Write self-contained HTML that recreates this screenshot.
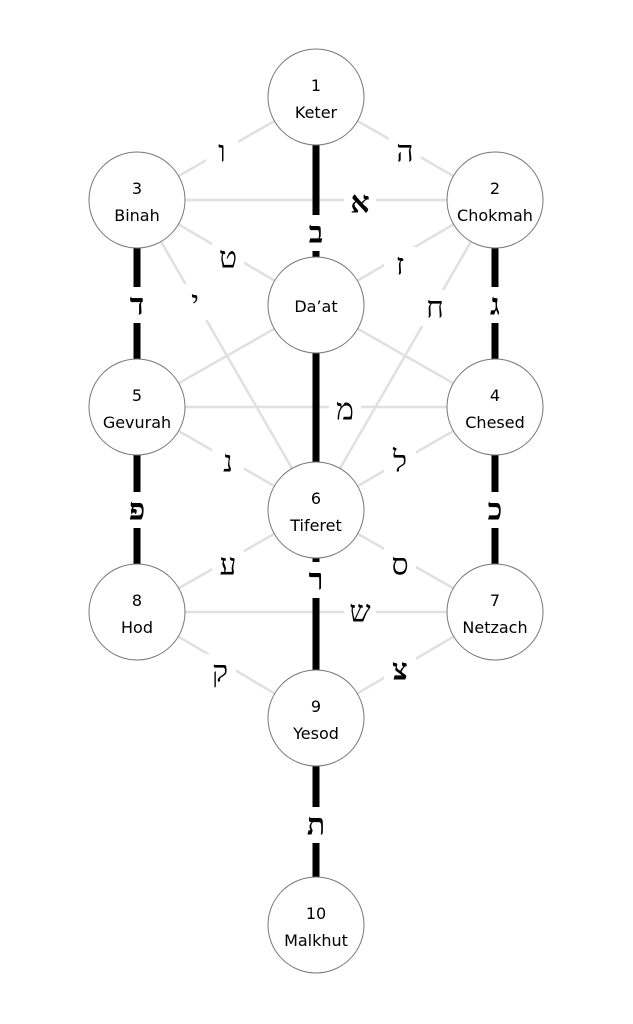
<!DOCTYPE html>
<html><head><meta charset="utf-8"><style>
html,body{margin:0;padding:0;background:#fff;width:633px;height:1024px;overflow:hidden}
text{font-family:"DejaVu Sans","Liberation Sans",sans-serif}
.h{font-family:"Liberation Serif","DejaVu Serif",serif;font-size:30px;text-anchor:middle;dominant-baseline:central}
.b{font-weight:bold}
.n{font-size:16px;text-anchor:middle}
</style></head><body>
<svg width="633" height="1024" viewBox="0 0 633 1024" xmlns="http://www.w3.org/2000/svg">
<g stroke="#e0e0e0" stroke-width="2.5">
<line x1="316" y1="97" x2="137" y2="200"/>
<line x1="316" y1="97" x2="495" y2="200"/>
<line x1="137" y1="200" x2="495" y2="200"/>
<line x1="137" y1="200" x2="316" y2="305"/>
<line x1="495" y1="200" x2="316" y2="305"/>
<line x1="137" y1="200" x2="316" y2="510"/>
<line x1="495" y1="200" x2="316" y2="510"/>
<line x1="137" y1="407" x2="316" y2="305"/>
<line x1="495" y1="407" x2="316" y2="305"/>
<line x1="137" y1="407" x2="495" y2="407"/>
<line x1="137" y1="407" x2="316" y2="510"/>
<line x1="495" y1="407" x2="316" y2="510"/>
<line x1="137" y1="612" x2="316" y2="510"/>
<line x1="495" y1="612" x2="316" y2="510"/>
<line x1="137" y1="612" x2="495" y2="612"/>
<line x1="137" y1="612" x2="316" y2="718"/>
<line x1="495" y1="612" x2="316" y2="718"/>
</g>
<g stroke="#000" stroke-width="7">
<line x1="316" y1="97" x2="316" y2="925"/>
<line x1="137" y1="200" x2="137" y2="612"/>
<line x1="495" y1="200" x2="495" y2="612"/>
</g>
<g fill="#fff">
<rect x="206" y="134" width="32" height="36"/>
<rect x="389" y="134" width="32" height="36"/>
<rect x="344" y="185" width="32" height="36"/>
<rect x="300" y="215" width="32" height="36"/>
<rect x="212" y="240" width="32" height="36"/>
<rect x="384" y="247" width="32" height="36"/>
<rect x="181" y="284" width="28" height="36"/>
<rect x="419" y="290" width="32" height="36"/>
<rect x="121" y="287" width="32" height="36"/>
<rect x="479" y="287" width="32" height="36"/>
<rect x="329" y="392" width="32" height="36"/>
<rect x="212" y="444" width="32" height="36"/>
<rect x="384" y="444" width="32" height="36"/>
<rect x="121" y="492" width="32" height="36"/>
<rect x="479" y="492" width="32" height="36"/>
<rect x="212" y="547" width="32" height="36"/>
<rect x="384" y="547" width="32" height="36"/>
<rect x="300" y="562" width="32" height="36"/>
<rect x="344" y="594" width="32" height="36"/>
<rect x="204" y="654" width="32" height="36"/>
<rect x="384" y="652" width="32" height="36"/>
<rect x="300" y="807" width="32" height="36"/>
</g>
<g fill="#fff" stroke="#777" stroke-width="1">
<circle cx="316" cy="97" r="48"/>
<circle cx="137" cy="200" r="48"/>
<circle cx="495" cy="200" r="48"/>
<circle cx="316" cy="305" r="48"/>
<circle cx="137" cy="407" r="48"/>
<circle cx="495" cy="407" r="48"/>
<circle cx="316" cy="510" r="48"/>
<circle cx="137" cy="612" r="48"/>
<circle cx="495" cy="612" r="48"/>
<circle cx="316" cy="718" r="48"/>
<circle cx="316" cy="925" r="48"/>
</g>
<g fill="#000">
<text class="n" x="316" y="91">1</text><text class="n" x="316" y="118">Keter</text>
<text class="n" x="137" y="194">3</text><text class="n" x="137" y="221">Binah</text>
<text class="n" x="495" y="194">2</text><text class="n" x="495" y="221">Chokmah</text>
<text class="n" x="316" y="312">Da’at</text>
<text class="n" x="137" y="401">5</text><text class="n" x="137" y="428">Gevurah</text>
<text class="n" x="495" y="401">4</text><text class="n" x="495" y="428">Chesed</text>
<text class="n" x="316" y="504">6</text><text class="n" x="316" y="531">Tiferet</text>
<text class="n" x="137" y="606">8</text><text class="n" x="137" y="633">Hod</text>
<text class="n" x="495" y="606">7</text><text class="n" x="495" y="633">Netzach</text>
<text class="n" x="316" y="712">9</text><text class="n" x="316" y="739">Yesod</text>
<text class="n" x="316" y="919">10</text><text class="n" x="316" y="946">Malkhut</text>
</g>
<g fill="#000">
<text class="h" x="222" y="152">ו</text>
<text class="h" x="405" y="152">ה</text>
<text class="h b" x="360" y="203">א</text>
<text class="h b" x="316" y="233">ב</text>
<text class="h" x="228" y="258">ט</text>
<text class="h" x="400" y="265">ז</text>
<text class="h" x="195" y="302">י</text>
<text class="h" x="435" y="308">ח</text>
<text class="h b" x="137" y="305">ד</text>
<text class="h b" x="495" y="305">ג</text>
<text class="h" x="345" y="410">מ</text>
<text class="h" x="228" y="462">נ</text>
<text class="h" x="400" y="462">ל</text>
<text class="h b" x="137" y="510">פ</text>
<text class="h b" x="495" y="510">כ</text>
<text class="h" x="228" y="565">ע</text>
<text class="h" x="400" y="565">ס</text>
<text class="h b" x="316" y="580">ר</text>
<text class="h" x="360" y="612">ש</text>
<text class="h" x="220" y="672">ק</text>
<text class="h b" x="400" y="670">צ</text>
<text class="h b" x="316" y="825">ת</text>
</g>
</svg>
</body></html>
